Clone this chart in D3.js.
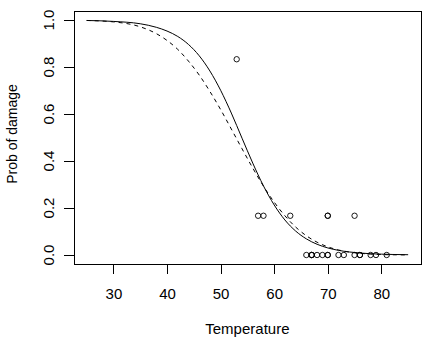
<!DOCTYPE html>
<html>
<head>
<meta charset="utf-8">
<script src="https://cdn.jsdelivr.net/npm/d3@7"></script>
<style>
  html, body { margin: 0; padding: 0; background: #fff; }
  svg text { font-family: "Liberation Sans", Arial, sans-serif; fill: #000; }
</style>
</head>
<body>
<svg id="chart" width="432" height="339"></svg>
<script>
// O-ring damage proportion against launch temperature
const temperature = [53, 57, 58, 63, 66, 67, 67, 67, 68, 69, 70, 70, 70, 70, 72, 73, 75, 75, 76, 76, 78, 79, 81];
const probDamage  = [0.833, 0.167, 0.167, 0.167, 0, 0, 0, 0, 0, 0, 0.167, 0, 0.167, 0, 0, 0, 0, 0.167, 0, 0, 0, 0, 0];

// fitted curves: logit (solid) and probit (dashed)
const curveTemp   = [25, 30, 35, 38, 40, 42, 44, 46, 48, 50, 52, 54, 56, 58, 60, 62, 64, 66, 68, 70, 72, 74, 76, 78, 80, 82, 85];
const logitProb   = [0.998, 0.994, 0.984, 0.969, 0.953, 0.930, 0.896, 0.848, 0.783, 0.701, 0.604, 0.497, 0.391, 0.294, 0.213, 0.149, 0.102, 0.0687, 0.0457, 0.0301, 0.0198, 0.0129, 0.0084, 0.0055, 0.0036, 0.0023, 0.0012];
const probitProb  = [0.998, 0.992, 0.971, 0.942, 0.913, 0.875, 0.825, 0.766, 0.696, 0.619, 0.536, 0.452, 0.370, 0.293, 0.225, 0.167, 0.119, 0.082, 0.0545, 0.0348, 0.0214, 0.0126, 0.0072, 0.0039, 0.0020, 0.0010, 0.0003];

const xTicks = [30, 40, 50, 60, 70, 80];
const yTicks = [0, 0.2, 0.4, 0.6, 0.8, 1.0];

const svg = d3.select("#chart");
const plotLeft = 73.8, plotRight = 421, plotTop = 10.6, plotBottom = 264.4;

const x = d3.scaleLinear().domain([22.6, 87.4]).range([plotLeft, plotRight]);
const y = d3.scaleLinear().domain([-0.04, 1.04]).range([plotBottom, plotTop]);

// x axis
const xAxis = svg.append("g").attr("transform", `translate(0,${plotBottom})`)
  .call(d3.axisBottom(x).tickValues(xTicks).tickSize(10).tickPadding(14).tickFormat(d3.format("d")));
xAxis.select(".domain").remove();
xAxis.selectAll("line").attr("stroke", "#000").attr("shape-rendering", "crispEdges");
xAxis.selectAll("text").attr("font-size", 15).attr("font-family", "Liberation Sans, Arial, sans-serif");

// y axis, labels rotated
const yAxis = svg.append("g").attr("transform", `translate(${plotLeft},0)`)
  .call(d3.axisLeft(y).tickValues(yTicks).tickSize(10).tickFormat(d3.format(".1f")));
yAxis.select(".domain").remove();
yAxis.selectAll("line").attr("stroke", "#000").attr("shape-rendering", "crispEdges");
yAxis.selectAll("text")
  .attr("font-size", 15).attr("font-family", "Liberation Sans, Arial, sans-serif")
  .attr("text-anchor", "middle").attr("dy", null)
  .attr("x", null).attr("y", null)
  .attr("transform", (d) => `translate(-20,${y(d)}) rotate(-90)`);
yAxis.selectAll(".tick").attr("transform", null);
yAxis.selectAll(".tick line").attr("transform", (d) => `translate(0,${y(d)})`);

// plot box
svg.append("rect").attr("x", Math.round(plotLeft) + 0.5).attr("y", Math.round(plotTop) + 0.5)
  .attr("width", Math.round(plotRight) - Math.round(plotLeft)).attr("height", Math.round(plotBottom) - Math.round(plotTop))
  .attr("fill", "none").attr("stroke", "#000").attr("stroke-width", 1);

// points
svg.append("g").selectAll("circle").data(temperature).join("circle")
  .attr("cx", (d) => x(d)).attr("cy", (d, i) => y(probDamage[i]))
  .attr("r", 2.7).attr("fill", "none").attr("stroke", "#000").attr("stroke-width", 0.9);

// curves
const line = (vals) => d3.line().x((d) => x(d)).y((d, i) => y(vals[i])).curve(d3.curveMonotoneX)(curveTemp);
svg.append("path").attr("d", line(logitProb)).attr("fill", "none").attr("stroke", "#000").attr("stroke-width", 1);
svg.append("path").attr("d", line(probitProb)).attr("fill", "none").attr("stroke", "#000").attr("stroke-width", 1)
  .attr("stroke-dasharray", "4,4");

// axis titles
svg.append("text").attr("x", (plotLeft + plotRight) / 2).attr("y", 334).attr("text-anchor", "middle")
  .attr("font-size", 15).text("Temperature");
svg.append("text").attr("transform", `translate(17,134) rotate(-90)`)
  .attr("text-anchor", "middle").attr("font-size", 14).text("Prob of damage");
</script>
</body>
</html>
